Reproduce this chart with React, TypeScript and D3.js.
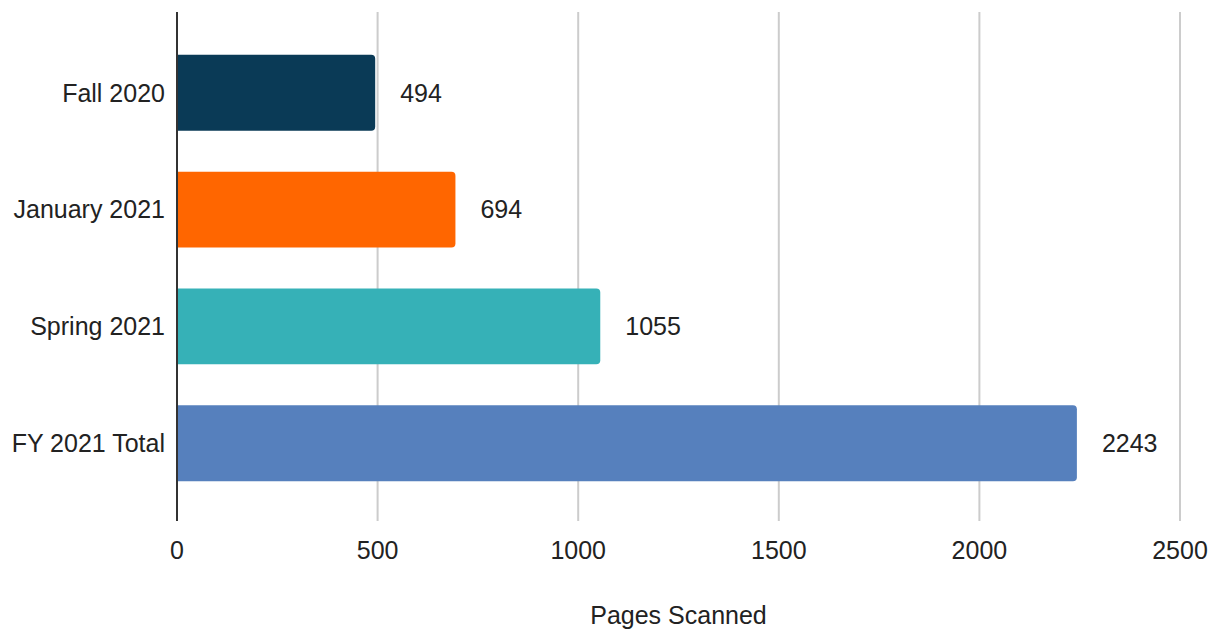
import React from "react";
import * as d3 from "d3";

const categories = ["Fall 2020", "January 2021", "Spring 2021", "FY 2021 Total"];
const values = [494, 694, 1055, 2243];
const colors = ["#0a3a56", "#ff6600", "#36b1b7", "#5680bd"];
const xTicks = [0, 500, 1000, 1500, 2000, 2500];
const xTitle = "Pages Scanned";

const W = 1219;
const H = 632;
const left = 177;
const right = 1180;
const top = 12;
const bottom = 521;
const bandTop = 14;
const font = "'Liberation Sans', Arial, sans-serif";
const fs = 25;

function barPath(x0: number, y0: number, w: number, h: number, r: number) {
  const p = d3.path();
  p.moveTo(x0, y0);
  p.lineTo(x0 + w - r, y0);
  p.arcTo(x0 + w, y0, x0 + w, y0 + r, r);
  p.lineTo(x0 + w, y0 + h - r);
  p.arcTo(x0 + w, y0 + h, x0 + w - r, y0 + h, r);
  p.lineTo(x0, y0 + h);
  p.closePath();
  return p.toString();
}

export default function App() {
  const x = d3.scaleLinear().domain([0, 2500]).range([left, right]);
  const y = d3.scaleBand<string>().domain(categories).range([bandTop, bottom + 1]).padding(0.35);
  return (
    <svg width={W} height={H} style={{ position: "absolute", left: 0, top: 0, background: "#fff" }}>
      {xTicks.map((t) =>
        t === 0 ? null : (
          <line key={t} x1={x(t)} x2={x(t)} y1={top} y2={bottom} stroke="#cccccc" strokeWidth={2} />
        )
      )}
      {categories.map((c, i) => (
        <path
          key={c}
          d={barPath(x(0), y(c)!, x(values[i]) - x(0), y.bandwidth(), 4)}
          fill={colors[i]}
        />
      ))}
      <line x1={x(0)} x2={x(0)} y1={top} y2={bottom} stroke="#333333" strokeWidth={2} />
      {categories.map((c, i) => (
        <text
          key={c}
          x={x(values[i]) + 25}
          y={y(c)! + y.bandwidth() / 2}
          dy="0.35em"
          fontFamily={font}
          fontSize={fs}
          fill="#222"
        >
          {values[i]}
        </text>
      ))}
      {categories.map((c) => (
        <text
          key={c}
          x={x(0) - 12}
          y={y(c)! + y.bandwidth() / 2}
          dy="0.35em"
          textAnchor="end"
          fontFamily={font}
          fontSize={fs}
          fill="#222"
        >
          {c}
        </text>
      ))}
      {xTicks.map((t) => (
        <text
          key={t}
          x={x(t)}
          y={550}
          dy="0.35em"
          textAnchor="middle"
          fontFamily={font}
          fontSize={fs}
          fill="#222"
        >
          {t}
        </text>
      ))}
      <text
        x={(left + right) / 2}
        y={615}
        dy="0.35em"
        textAnchor="middle"
        fontFamily={font}
        fontSize={fs}
        fill="#222"
      >
        {xTitle}
      </text>
    </svg>
  );
}
